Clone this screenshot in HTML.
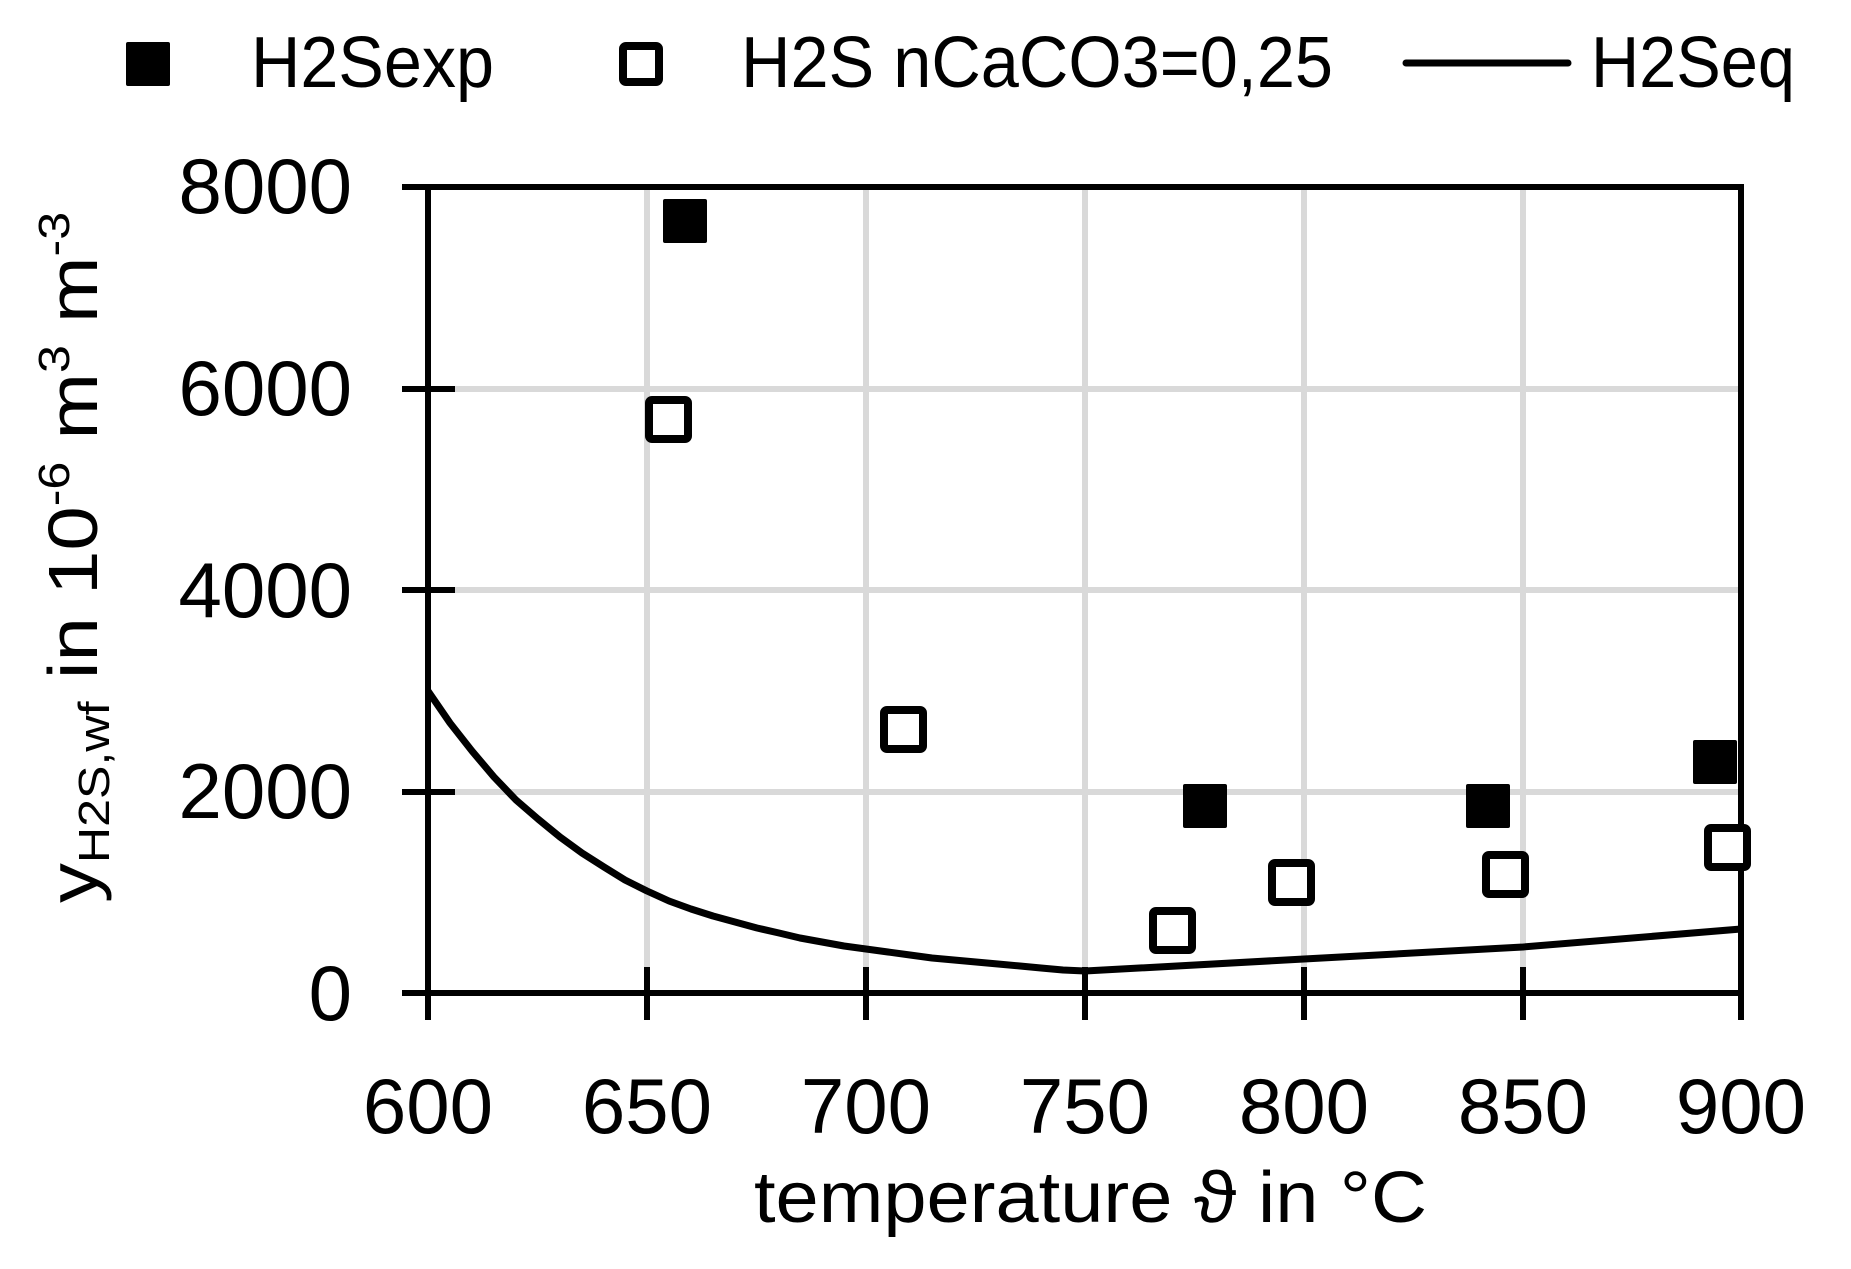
<!DOCTYPE html>
<html><head><meta charset="utf-8"><style>html,body{margin:0;padding:0;background:#fff}svg{display:block}</style></head>
<body>
<svg width="1851" height="1269" viewBox="0 0 1851 1269" xmlns="http://www.w3.org/2000/svg" font-family="'Liberation Sans', sans-serif" fill="#000">
<g stroke="#d9d9d9" stroke-width="6">
<line x1="647" y1="187" x2="647" y2="993"/><line x1="866" y1="187" x2="866" y2="993"/><line x1="1085" y1="187" x2="1085" y2="993"/><line x1="1304" y1="187" x2="1304" y2="993"/><line x1="1523" y1="187" x2="1523" y2="993"/>
<line x1="428" y1="389" x2="1741" y2="389"/><line x1="428" y1="590" x2="1741" y2="590"/><line x1="428" y1="792" x2="1741" y2="792"/>
</g>
<g stroke="#000" stroke-width="6">
<line x1="402" y1="187" x2="1744" y2="187"/>
<line x1="428" y1="187" x2="428" y2="1020"/>
<line x1="1741" y1="187" x2="1741" y2="1020"/>
<line x1="402" y1="993" x2="1744" y2="993"/>
<line x1="402" y1="389" x2="455" y2="389"/><line x1="402" y1="590" x2="455" y2="590"/><line x1="402" y1="792" x2="455" y2="792"/>
<line x1="647" y1="967" x2="647" y2="1020"/><line x1="866" y1="967" x2="866" y2="1020"/><line x1="1085" y1="967" x2="1085" y2="1020"/><line x1="1304" y1="967" x2="1304" y2="1020"/><line x1="1523" y1="967" x2="1523" y2="1020"/>
</g>
<polyline fill="none" stroke="#000" stroke-width="7" stroke-linejoin="round" points="428,691 450,723 472,751 494,777 516,800 538,819 560,837 582,853 604,867 625,880 647,891 669,901 691,909 713,916 735,922 757,928 779,933 800,938 822,942 844,946 866,949 888,952 910,955 932,958 954,960 976,962 998,964 1020,966 1041,968 1063,970 1085,971 1304,959 1523,947 1741,929"/>
<g>
<rect x="663" y="199" width="44" height="44" rx="2"/>
<rect x="1183" y="784" width="44" height="44" rx="2"/>
<rect x="1466" y="784" width="44" height="44" rx="2"/>
<rect x="1693" y="740" width="44" height="44" rx="2"/>
</g>
<g fill="#fff" stroke="#000" stroke-width="8">
<rect x="649" y="400" width="39" height="39" rx="3"/>
<rect x="884" y="710" width="39" height="39" rx="3"/>
<rect x="1153" y="911" width="39" height="39" rx="3"/>
<rect x="1272" y="863" width="39" height="39" rx="3"/>
<rect x="1486" y="855" width="39" height="39" rx="3"/>
<rect x="1708" y="828" width="39" height="39" rx="3"/>
</g>
<g font-size="78" text-anchor="end">
<text x="352" y="213">8000</text><text x="352" y="415">6000</text><text x="352" y="617">4000</text><text x="352" y="818">2000</text><text x="352" y="1020">0</text>
</g>
<g font-size="78" text-anchor="middle">
<text x="428" y="1133">600</text><text x="647" y="1133">650</text><text x="866" y="1133">700</text><text x="1085" y="1133">750</text><text x="1304" y="1133">800</text><text x="1523" y="1133">850</text><text x="1741" y="1133">900</text>
</g>
<text x="754" y="1222" font-size="72" textLength="673" lengthAdjust="spacingAndGlyphs">temperature ϑ in °C</text>
<text transform="translate(97,903) rotate(-90) scale(1.14,1)" font-size="70">y<tspan font-size="44" dy="12">H2S,wf</tspan><tspan dy="-12"> in 10</tspan><tspan font-size="44" dy="-28">-6</tspan><tspan dy="28"> m</tspan><tspan font-size="44" dy="-28">3</tspan><tspan dy="28"> m</tspan><tspan font-size="44" dy="-28">-3</tspan></text>
<rect x="126" y="42" width="44" height="44" rx="2"/>
<text x="251" y="87" font-size="72" textLength="243" lengthAdjust="spacingAndGlyphs">H2Sexp</text>
<rect x="623" y="46" width="36" height="36" rx="3" fill="#fff" stroke="#000" stroke-width="8"/>
<text x="741" y="87" font-size="72" textLength="592" lengthAdjust="spacingAndGlyphs">H2S nCaCO3=0,25</text>
<line x1="1406" y1="63" x2="1568" y2="63" stroke="#000" stroke-width="7" stroke-linecap="round"/>
<text x="1591" y="87" font-size="72" textLength="204" lengthAdjust="spacingAndGlyphs">H2Seq</text>
</svg>
</body></html>
